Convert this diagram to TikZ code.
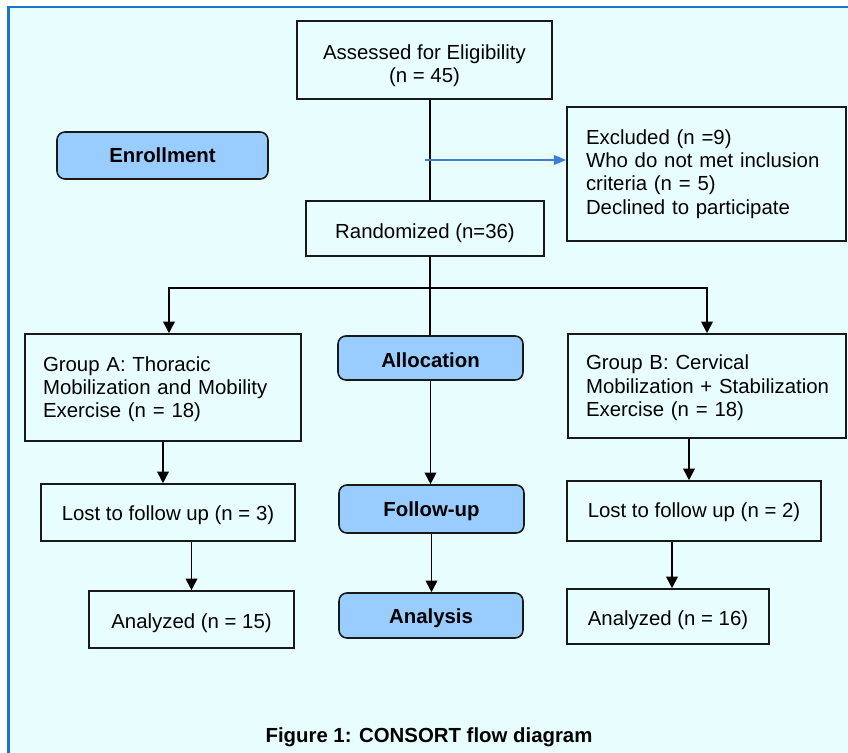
\documentclass[tikz,border=0pt]{standalone}
\usepackage{fontspec}
\setmainfont{Liberation Sans}
\usetikzlibrary{arrows.meta}
\definecolor{panelbg}{HTML}{E8FEFE}
\definecolor{panelrule}{HTML}{1C75CC}
\definecolor{phasefill}{HTML}{99CCFF}
\definecolor{exclblue}{HTML}{3B7DD8}
\newcommand{\topstrut}[1][12pt]{\rule{0pt}{#1}}
\begin{document}
\begin{tikzpicture}[x=0.02cm,y=-0.02cm,
                    flow node/.style={draw=black!90,line width=0.9pt,inner sep=0pt,align=center,
                                      font=\fontsize{11.6}{13.3}\selectfont},
                    list node/.style={flow node,align=left,inner xsep=0.36cm},
                    phase node/.style={flow node,rounded corners=4.5pt,fill=phasefill,
                                       font=\fontsize{11.6}{13.3}\selectfont\bfseries},
                    arr/.style={line width=1pt,-{Triangle[width=6.6pt,length=6.6pt]}},
                    excl arr/.style={exclblue,line width=0.75pt,-{Triangle[width=5.5pt,length=7pt]}}
                   ]
  \useasboundingbox (0,0) rectangle (848,753);
  \clip (0,0) rectangle (848,753);
  \fill[white] (0,0) rectangle (848,753);
  \draw[panelrule,line width=1.4pt,fill=panelbg] (8.5,7) rectangle (880,790);

  \node[flow node,minimum width=5.1cm,minimum height=1.56cm] (assess) at (424.5,60) {\topstrut[15pt]Assessed for Eligibility\\(n = 45)};
  \node[list node,inner xsep=0.38cm,text width=4.82cm,minimum height=2.68cm] (excl) at (706.5,174) {Excluded (n =9)\\Who do not met inclusion\\criteria (n = 5)\\Declined to participate};
  \node[flow node,minimum width=4.76cm,minimum height=1.1cm] (rand) at (425,228.5) {\topstrut[14pt]Randomized (n=36)};
  \node[phase node,minimum width=4.22cm,minimum height=0.94cm] (enrol) at (162.5,155.5) {Enrollment};

  \node[list node,text width=4.8cm,minimum height=2.14cm] (ga) at (163,387.5) {\topstrut[10.5pt]Group A: Thoracic\\Mobilization and Mobility\\Exercise (n = 18)};
  \node[phase node,minimum width=3.7cm,minimum height=0.88cm] (alloc) at (430.5,358) {\topstrut[11pt]Allocation};
  \node[list node,text width=4.84cm,minimum height=2.08cm] (gb) at (707,386) {\topstrut[10.5pt]Group B: Cervical\\\mbox{Mobilization + Stabilization}\\Exercise (n = 18)};

  \node[flow node,minimum width=5.08cm,minimum height=1.14cm] (lostA) at (168,512.5) {\topstrut Lost to follow up (n = 3)};
  \node[phase node,minimum width=3.7cm,minimum height=0.96cm] (fu) at (431.5,509) {\topstrut[11pt]Follow-up};
  \node[flow node,minimum width=5.08cm,minimum height=1.2cm] (lostB) at (694,511) {\topstrut[10pt]Lost to follow up (n = 2)};

  \node[flow node,minimum width=4.1cm,minimum height=1.14cm] (anA) at (191.5,619.5) {\topstrut[13pt]Analyzed (n = 15)};
  \node[phase node,minimum width=3.68cm,minimum height=0.9cm] (an) at (431,615.5) {\topstrut[11pt]Analysis};
  \node[flow node,minimum width=4.04cm,minimum height=1.1cm] (anB) at (668,616.5) {\topstrut[13pt]Analyzed (n = 16)};

  \node[font=\fontsize{11.6}{13.3}\selectfont\bfseries] (caption) at (429,737) {Figure 1: CONSORT flow diagram};

  \coordinate (split) at (430,288);
  \coordinate (exclfrom) at (425,160);

  \draw[line width=1pt] (assess.south -| split) -- (rand.north -| split);
  \draw[excl arr] (exclfrom) -- (exclfrom -| excl.west);
  \draw[line width=1pt] (rand.south -| split) -- (alloc.north -| split);
  \draw[arr] (split) -| ([xshift=0.12cm]ga.north);
  \draw[arr] (split) -| (gb.north);

  \draw[arr] (ga.south) -- (ga.south |- lostA.north);
  \draw[arr] (lostA.south -| anA.north) -- (anA.north);
  \draw[arr] ([xshift=-0.36cm]gb.south) -- ([xshift=-0.36cm]gb.south |- lostB.north);
  \draw[arr] ([xshift=0.08cm]anB.north |- lostB.south) -- ([xshift=0.08cm]anB.north);
  \draw[arr] (alloc.south) -- (alloc.south |- fu.north);
  \draw[arr] (fu.south) -- (fu.south |- an.north);
\end{tikzpicture}
\end{document}
